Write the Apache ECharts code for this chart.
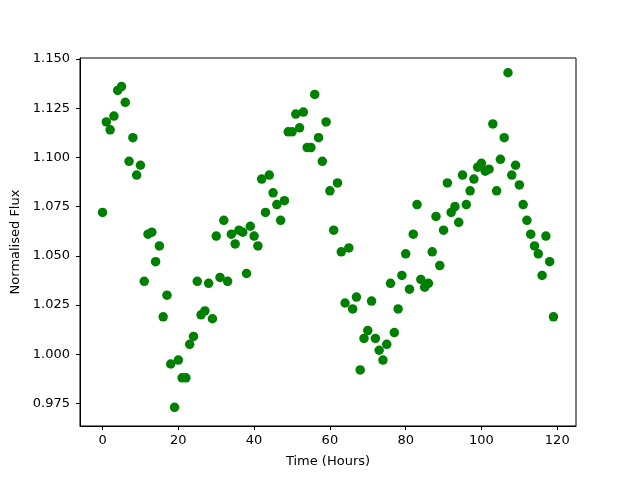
<!DOCTYPE html>
<html>
<head>
<meta charset="utf-8">
<script src="https://cdn.jsdelivr.net/npm/echarts@6/dist/echarts.min.js"></script>
<style>
  html, body { margin: 0; padding: 0; background: #fff; }
  #chart { width: 640px; height: 480px; }
</style>
</head>
<body>
<div id="chart"></div>
<script>
// hours 0..119, one reading per hour
const hours = Array.from({ length: 120 }, (_, i) => i)

// normalised flux
const flux = [
  1.072, 1.118, 1.114, 1.121, 1.134, 1.136, 1.128, 1.098, 1.110, 1.091,
  1.096, 1.037, 1.061, 1.062, 1.047, 1.055, 1.019, 1.030, 0.995, 0.973,
  0.997, 0.988, 0.988, 1.005, 1.009, 1.037, 1.020, 1.022, 1.036, 1.018,
  1.060, 1.039, 1.068, 1.037, 1.061, 1.056, 1.063, 1.062, 1.041, 1.065,
  1.060, 1.055, 1.089, 1.072, 1.091, 1.082, 1.076, 1.068, 1.078, 1.113,
  1.113, 1.122, 1.115, 1.123, 1.105, 1.105, 1.132, 1.110, 1.098, 1.118,
  1.083, 1.063, 1.087, 1.052, 1.026, 1.054, 1.023, 1.029, 0.992, 1.008,
  1.012, 1.027, 1.008, 1.002, 0.997, 1.005, 1.036, 1.011, 1.023, 1.040,
  1.051, 1.033, 1.061, 1.076, 1.038, 1.034, 1.036, 1.052, 1.070, 1.045,
  1.063, 1.087, 1.072, 1.075, 1.067, 1.091, 1.076, 1.083, 1.089, 1.095,
  1.097, 1.093, 1.094, 1.117, 1.083, 1.099, 1.110, 1.143, 1.091, 1.096,
  1.086, 1.076, 1.068, 1.061, 1.055, 1.051, 1.040, 1.060, 1.047, 1.019
]

// tick labels
const xTicks = [0, 20, 40, 60, 80, 100, 120]
const yTicks = [0.975, 1.000, 1.025, 1.050, 1.075, 1.100, 1.125, 1.150]

const points = hours.map((h, i) => [h, flux[i]])

const fontFamily = 'DejaVu Sans'
const fontSize = 13

const chart = echarts.init(document.getElementById('chart'), null, { renderer: 'canvas' })

chart.setOption({
  animation: false,
  textStyle: { fontFamily: fontFamily },
  grid: {
    left: 80,
    right: 64,
    top: 58,
    bottom: 54,
    show: true,
    borderColor: '#000',
    borderWidth: 1,
    backgroundColor: 'transparent'
  },
  xAxis: {
    type: 'value',
    min: -5.95,
    max: 124.95,
    name: 'Time (Hours)',
    nameLocation: 'middle',
    nameGap: 29,
    nameTextStyle: { color: '#000', fontSize: fontSize, fontFamily: fontFamily },
    axisLine: { show: true, onZero: false, lineStyle: { color: '#000', width: 1 } },
    axisTick: { show: true, length: 4, lineStyle: { color: '#000' }, customValues: xTicks },
    axisLabel: { color: '#000', fontSize: fontSize, margin: 8, customValues: xTicks },
    splitLine: { show: false }
  },
  yAxis: {
    type: 'value',
    min: 0.9635,
    max: 1.1505,
    name: 'Normalised Flux',
    nameLocation: 'middle',
    nameGap: 57,
    nameTextStyle: { color: '#000', fontSize: fontSize, fontFamily: fontFamily },
    axisLine: { show: true, onZero: false, lineStyle: { color: '#000', width: 1 } },
    axisTick: { show: true, length: 4, lineStyle: { color: '#000' }, customValues: yTicks },
    axisLabel: {
      color: '#000',
      fontSize: fontSize,
      margin: 10,
      customValues: yTicks,
      formatter: v => v.toFixed(3)
    },
    splitLine: { show: false }
  },
  series: [
    {
      type: 'scatter',
      data: points,
      symbol: 'circle',
      symbolSize: 9.5,
      itemStyle: { color: '#008000', opacity: 1 }
    }
  ]
})
</script>
</body>
</html>
